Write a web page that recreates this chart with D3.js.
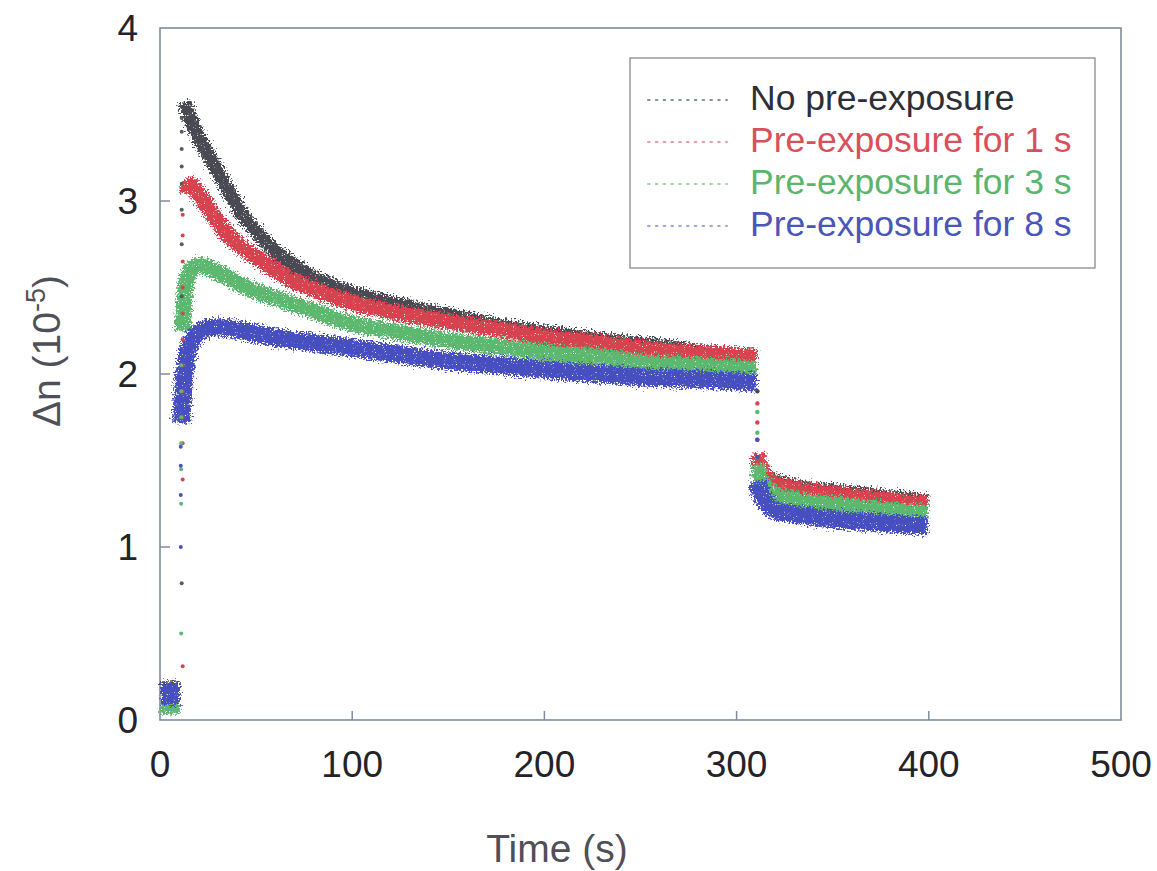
<!DOCTYPE html>
<html>
<head>
<meta charset="utf-8">
<script src="https://cdn.jsdelivr.net/npm/d3@7/dist/d3.min.js"></script>
<style>
  html, body { margin: 0; padding: 0; background: #fff; }
  svg { display: block; font-family: "Liberation Sans", Arial, sans-serif; }
</style>
</head>
<body>
<svg id="chart" width="1157" height="871"></svg>
<script>
// ---- data: refractive-index change Δn (10^-5) vs time (s) ----
const seriesNames = ["No pre-exposure", "Pre-exposure for 1 s", "Pre-exposure for 3 s", "Pre-exposure for 8 s"];
const seriesColors = ["#484852", "#d6434d", "#5cb86e", "#4750c0"];
const legendTextColors = ["#2e2e36", "#d8505a", "#5cb56d", "#4a56b8"];
const legendDotColors = ["#7d978c", "#e39aa0", "#9fd2aa", "#9aa6dc"];
const riseDotColors = ["#4f6158", "#d6454f", "#5db96f", "#4952c0"];

const xTicks = [0, 100, 200, 300, 400, 500];
const yTicks = [0, 1, 2, 3, 4];

// dark baseline before the writing beam is switched on
const baseT = [0.5, 10.3];
const baseV = [
  [0.16, 0.16],
  [0.12, 0.12],
  [0.10, 0.10],
  [0.15, 0.15]
];

// sparse points during the fast rise at switch-on
const riseT = [11.3, 11.8, 11.0, 10.8];
const riseV = [
  [0.79, 1.9, 2.45, 2.75, 2.95, 3.1, 3.2, 3.3, 3.4, 3.48],
  [0.31, 1.39, 1.6, 1.75, 1.9, 2.05, 2.2, 2.35, 2.5, 2.65, 2.8, 2.92],
  [0.5, 1.25, 1.45, 1.6, 1.75, 1.9, 2.05],
  [1.0, 1.3, 1.47, 1.58]
];

// beam on: growth and relaxation
const phase1T = [
  [12.5, 15, 20, 26, 35, 43, 52, 61, 70, 78, 90, 100, 125, 150, 177, 200, 229, 260, 290, 310.5],
  [13.5, 16, 20, 27, 35, 43, 52, 60, 69, 80, 95, 120, 146, 175, 205, 230, 250, 280, 310.5],
  [11.8, 13, 15, 20, 26, 35, 43, 52, 65, 78, 100, 125, 146, 175, 205, 230, 250, 280, 310.5],
  [11.0, 12.3, 14, 17, 22, 29, 43, 60, 80, 94, 120, 146, 175, 205, 230, 250, 280, 310.5]
];
const phase1V = [
  [3.57, 3.50, 3.37, 3.25, 3.07, 2.92, 2.80, 2.70, 2.63, 2.57, 2.51, 2.47, 2.40, 2.34, 2.28, 2.24, 2.20, 2.16, 2.12, 2.10],
  [3.04, 3.09, 3.04, 2.93, 2.81, 2.73, 2.66, 2.60, 2.54, 2.49, 2.43, 2.36, 2.31, 2.26, 2.21, 2.18, 2.15, 2.12, 2.10],
  [2.25, 2.48, 2.58, 2.63, 2.61, 2.56, 2.51, 2.47, 2.42, 2.37, 2.29, 2.24, 2.20, 2.16, 2.12, 2.10, 2.07, 2.05, 2.03],
  [1.72, 1.95, 2.10, 2.20, 2.25, 2.27, 2.25, 2.21, 2.18, 2.16, 2.12, 2.08, 2.05, 2.02, 2.00, 1.98, 1.97, 1.95]
];

// sparse points during the drop when the beam is switched off
const dropT = 310.8;
const dropV = [
  [1.9],
  [1.83, 1.72, 1.62],
  [1.78, 1.66],
  [1.62, 1.52]
];

// beam off: dark decay
const phase2T = [311.2, 312, 313.5, 316, 320, 330, 350, 375, 399.5];
const phase2V = [
  [1.52, 1.47, 1.43, 1.40, 1.38, 1.35, 1.32, 1.29, 1.26],
  [1.54, 1.48, 1.44, 1.40, 1.37, 1.34, 1.31, 1.28, 1.25],
  [1.48, 1.42, 1.38, 1.34, 1.31, 1.28, 1.25, 1.22, 1.20],
  [1.38, 1.33, 1.29, 1.25, 1.21, 1.19, 1.16, 1.14, 1.12]
];

// ---- layout ----
const svg = d3.select("#chart");
const plot = { left: 160, right: 1121, top: 28, bottom: 720 };
const x = d3.scaleLinear().domain([0, 500]).range([plot.left, plot.right]);
const y = d3.scaleLinear().domain([0, 4]).range([plot.bottom, plot.top]);

// ragged, grainy look for the dense measurement bands
const defs = svg.append("defs");
const grain = defs.append("filter").attr("id", "grain")
  .attr("filterUnits", "userSpaceOnUse")
  .attr("x", 0).attr("y", 0).attr("width", 1157).attr("height", 871);
grain.append("feTurbulence").attr("type", "fractalNoise")
  .attr("baseFrequency", 0.55).attr("numOctaves", 2).attr("seed", 7).attr("result", "noise");
grain.append("feDisplacementMap").attr("in", "SourceGraphic").attr("in2", "noise")
  .attr("scale", 13).attr("xChannelSelector", "R").attr("yChannelSelector", "G").attr("result", "disp");
grain.append("feTurbulence").attr("type", "fractalNoise")
  .attr("baseFrequency", 0.9).attr("numOctaves", 1).attr("seed", 3).attr("result", "speck");
grain.append("feColorMatrix").attr("in", "speck").attr("type", "matrix")
  .attr("values", "0 0 0 0 0  0 0 0 0 0  0 0 0 0 0  0 0 0 -9 7.0").attr("result", "mask");
grain.append("feComposite").attr("in", "disp").attr("in2", "mask").attr("operator", "in");

// frame
const axisColor = "#7f8d9c";
svg.append("rect")
  .attr("x", plot.left).attr("y", plot.top)
  .attr("width", plot.right - plot.left).attr("height", plot.bottom - plot.top)
  .attr("fill", "none").attr("stroke", axisColor).attr("stroke-width", 1.6);

// inward ticks
svg.append("g").selectAll("line").data(xTicks.slice(1, -1)).join("line")
  .attr("x1", d => x(d)).attr("x2", d => x(d))
  .attr("y1", plot.bottom).attr("y2", plot.bottom - 9)
  .attr("stroke", axisColor).attr("stroke-width", 1.5);
svg.append("g").selectAll("line").data(yTicks.slice(1, -1)).join("line")
  .attr("x1", plot.left).attr("x2", plot.left + 10)
  .attr("y1", d => y(d)).attr("y2", d => y(d))
  .attr("stroke", axisColor).attr("stroke-width", 1.5);

// tick labels
svg.append("g").selectAll("text").data(xTicks).join("text")
  .attr("x", d => x(d)).attr("y", 777)
  .attr("text-anchor", "middle").attr("font-size", 37).attr("fill", "#232329")
  .text(d => d);
svg.append("g").selectAll("text").data(yTicks).join("text")
  .attr("x", 138).attr("y", d => y(d)).attr("dy", "0.36em")
  .attr("text-anchor", "end").attr("font-size", 37).attr("fill", "#232329")
  .text(d => d);

// axis titles
svg.append("text")
  .attr("x", 557).attr("y", 862).attr("text-anchor", "middle")
  .attr("font-size", 39).attr("fill", "#505058").text("Time (s)");
const yTitle = svg.append("text")
  .attr("transform", "translate(60,351) rotate(-90)")
  .attr("text-anchor", "middle").attr("font-size", 39).attr("fill", "#505058");
yTitle.append("tspan").text("Δn (10");
yTitle.append("tspan").attr("font-size", 27).attr("dy", -15).text("-5");
yTitle.append("tspan").attr("dy", 15).text(")");

// ---- data marks ----
const line = d3.line().x(d => x(d[0])).y(d => y(d[1])).curve(d3.curveMonotoneX);
const zip = (ts, vs) => ts.map((t, i) => [t, vs[i]]);

const bands = svg.append("g").attr("filter", "url(#grain)");
seriesNames.forEach((name, i) => {
  const g = bands.append("g").attr("class", "series").attr("data-name", name);
  g.append("path").attr("d", line(zip(baseT, baseV[i])))
    .attr("fill", "none").attr("stroke", seriesColors[i]).attr("stroke-width", 22);
  g.append("path").attr("d", line(zip(phase1T[i], phase1V[i])))
    .attr("fill", "none").attr("stroke", seriesColors[i])
    .attr("stroke-width", i === 0 ? 14 : (i === 3 ? 18 : 16));
  g.append("path").attr("d", line(zip(phase2T, phase2V[i])))
    .attr("fill", "none").attr("stroke", seriesColors[i])
    .attr("stroke-width", i === 3 ? 18 : 15);
});

// sparse points of the fast transients
const dots = svg.append("g");
seriesNames.forEach((name, i) => {
  dots.append("g").selectAll("circle").data(riseV[i]).join("circle")
    .attr("cx", x(riseT[i])).attr("cy", d => y(d)).attr("r", 2)
    .attr("fill", riseDotColors[i]);
  dots.append("g").selectAll("circle").data(dropV[i]).join("circle")
    .attr("cx", x(dropT)).attr("cy", d => y(d)).attr("r", 2.2)
    .attr("fill", seriesColors[i]);
});

// ---- legend ----
const legend = svg.append("g");
legend.append("rect")
  .attr("x", 630).attr("y", 58).attr("width", 465).attr("height", 210)
  .attr("fill", "#fff").attr("stroke", "#8a8a90").attr("stroke-width", 1.3);
const rowBase = [110, 152, 194, 236];
seriesNames.forEach((name, i) => {
  legend.append("line")
    .attr("x1", 648).attr("x2", 727)
    .attr("y1", rowBase[i] - 10).attr("y2", rowBase[i] - 10)
    .attr("stroke", legendDotColors[i]).attr("stroke-width", 2)
    .attr("stroke-dasharray", "1.6,6.2").attr("stroke-linecap", "round");
  legend.append("text")
    .attr("x", 750).attr("y", rowBase[i])
    .attr("font-size", 35.5).attr("fill", legendTextColors[i])
    .text(name);
});
</script>
</body>
</html>
